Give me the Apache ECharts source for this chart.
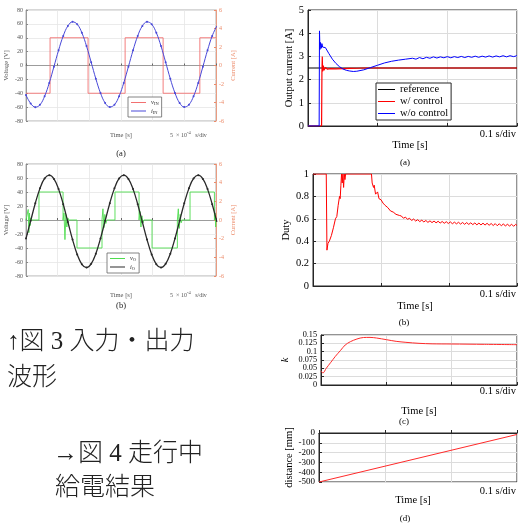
<!DOCTYPE html>
<html>
<head>
<meta charset="utf-8">
<script src="https://cdn.jsdelivr.net/npm/echarts@6/dist/echarts.min.js"></script>
<style>
  html, body { margin: 0; padding: 0; background: #fff; }
  #chart { width: 518px; height: 527px; }
</style>
</head>
<body>
<div id="chart"></div>
<script>
// ---- Fig.3 (a): input waveforms, time in divisions (5e-4 s/div) ----
const sineTime = [0, 0.147, 0.294, 0.441, 0.588, 0.735, 0.882, 1.029, 1.176, 1.323, 1.47, 1.617, 1.764, 1.911,
  2.058, 2.205, 2.352, 2.499, 2.646, 2.793, 2.94, 3.087, 3.234, 3.381, 3.528, 3.675, 3.822, 3.969, 4.116,
  4.263, 4.41, 4.557, 4.704, 4.851, 4.998, 5.145, 5.292, 5.439, 5.586, 5.733, 5.88, 6.027];
const iInCurrent = [-3.2, -4.1, -4.5, -4.25, -3.32, -1.88, -0.13, 1.65, 3.2, 4.28, 4.72, 4.46, 3.54, 2.1, 0.35, -1.43,
  -2.97, -4.05, -4.49, -4.24, -3.32, -1.88, -0.13, 1.65, 3.2, 4.28, 4.72, 4.46, 3.54, 2.1, 0.35, -1.43,
  -2.97, -4.05, -4.49, -4.24, -3.32, -1.88, -0.13, 1.65, 3.2, 4.28];
const vInTime = [0, 0.76, 0.76, 1.96, 1.96, 3.13, 3.13, 4.33, 4.33, 5.49, 5.49, 6];
const vInVoltage = [-40, -40, 40, 40, -40, -40, 40, 40, -40, -40, 40, 40];

// ---- Fig.3 (b): output waveforms ----
const iOCurrent = [-1.99, -0.09, 1.8, 3.39, 4.45, 4.8, 4.4, 3.31, 1.69, -0.21, -2.1, -3.69, -4.75, -5.1, -4.7, -3.61,
  -1.99, -0.09, 1.8, 3.39, 4.45, 4.8, 4.4, 3.31, 1.69, -0.21, -2.1, -3.69, -4.75, -5.1, -4.7, -3.61,
  -1.99, -0.09, 1.8, 3.39, 4.45, 4.8, 4.4, 3.31, 1.69, -0.21];
const vOTime = [0, 0.05, 0.07, 0.09, 0.11, 0.13, 0.15, 0.17, 0.41, 0.41, 1.17, 1.17, 1.2, 1.23, 1.26, 1.29, 1.32, 1.35,
  1.61, 1.61, 2.4, 2.4, 2.43, 2.46, 2.49, 2.52, 2.55, 2.81, 2.81, 3.57, 3.57, 3.6, 3.63, 3.66, 3.69, 3.72,
  3.98, 3.98, 4.78, 4.78, 4.81, 4.84, 4.87, 4.9, 4.93, 5.18, 5.18, 5.95, 5.95, 5.97, 5.99, 6];
const vOVoltage = [0, 0, 15, -18, 10, -8, 3, 0, 0, 40, 40, 0, 10, -28, 8, -10, 3, 0,
  0, -40, -40, 0, 16, -11, 8, -5, 0, 0, 40, 40, 0, 12, -10, 6, -4, 0,
  0, -40, -40, 0, 16, -12, 8, -4, 0, 0, 40, 40, 0, 10, -10, 0];

// ---- Fig.4 (a): output current [A], time [s] ----
const refTime = [0, 0.3];
const refCurrent = [2.5, 2.5];
const ctrlTime = [0, 0.0195, 0.02, 0.0205, 0.021, 0.022, 0.023, 0.025, 0.028, 0.032, 0.04, 0.05, 0.06, 0.07, 0.08, 0.3];
const ctrlCurrent = [0, 0, 2.3, 3.0, 2.35, 2.6, 2.4, 2.52, 2.45, 2.47, 2.46, 2.47, 2.48, 2.49, 2.5, 2.5];
const noCtrlTime = [0, 0.016, 0.0165, 0.0172, 0.018, 0.019, 0.02, 0.021, 0.022, 0.025, 0.03, 0.035, 0.04, 0.045,
  0.05, 0.055, 0.06, 0.065, 0.07, 0.08, 0.09, 0.1, 0.11, 0.12, 0.13, 0.14,
  0.15, 0.155, 0.16, 0.165, 0.17, 0.175, 0.18, 0.185, 0.19, 0.195, 0.2, 0.205, 0.21, 0.215, 0.22, 0.225,
  0.23, 0.235, 0.24, 0.245, 0.25, 0.255, 0.26, 0.265, 0.27, 0.275, 0.28, 0.285, 0.29, 0.295, 0.3];
const noCtrlCurrent = [0, 0, 4.1, 3.3, 3.6, 3.35, 3.55, 3.4, 3.45, 3.38, 3.12, 2.88, 2.7, 2.56,
  2.46, 2.4, 2.37, 2.35, 2.36, 2.42, 2.52, 2.62, 2.72, 2.79, 2.84, 2.88,
  2.92, 2.88, 2.95, 2.9, 2.96, 2.92, 2.98, 2.93, 2.98, 2.94, 2.99, 2.94, 2.99, 2.95, 3.0, 2.95,
  3.0, 2.96, 3.01, 2.96, 3.01, 2.97, 3.02, 2.97, 3.02, 2.98, 3.03, 2.98, 3.03, 2.99, 3.03];

// ---- Fig.4 (b): duty ----
const dutyTime = [0, 0.0195, 0.0205, 0.022, 0.024, 0.027, 0.03, 0.033, 0.035, 0.037, 0.039, 0.04, 0.041, 0.042,
  0.043, 0.044, 0.045, 0.046, 0.047, 0.048, 0.086, 0.087, 0.089, 0.09, 0.092, 0.095, 0.097, 0.1, 0.103,
  0.106, 0.11, 0.114, 0.118, 0.122, 0.127, 0.13, 0.133, 0.136, 0.139, 0.142, 0.145, 0.148, 0.151, 0.154,
  0.157, 0.16, 0.163, 0.166, 0.169, 0.172, 0.175, 0.178, 0.181, 0.184, 0.187, 0.19, 0.193, 0.196, 0.199,
  0.202, 0.205, 0.208, 0.211, 0.214, 0.217, 0.22, 0.223, 0.226, 0.229, 0.232, 0.235, 0.238, 0.241, 0.244,
  0.247, 0.25, 0.253, 0.256, 0.259, 0.262, 0.265, 0.268, 0.271, 0.274, 0.277, 0.28, 0.283, 0.286, 0.289,
  0.292, 0.295, 0.298, 0.3];
const dutyValue = [1, 1, 0.32, 0.38, 0.4, 0.45, 0.52, 0.6, 0.62, 0.72, 0.8, 0.78, 0.9, 1,
  0.92, 1, 0.88, 1, 0.95, 1, 1, 0.92, 0.88, 0.9, 0.82, 0.84, 0.78, 0.77, 0.74,
  0.72, 0.7, 0.67, 0.66, 0.64, 0.63, 0.625, 0.605, 0.615, 0.595, 0.605, 0.585, 0.598, 0.58, 0.592,
  0.575, 0.588, 0.572, 0.585, 0.568, 0.582, 0.566, 0.58, 0.564, 0.578, 0.562, 0.576, 0.56, 0.574, 0.558,
  0.572, 0.556, 0.57, 0.555, 0.569, 0.553, 0.567, 0.551, 0.566, 0.55, 0.564, 0.548, 0.563, 0.546, 0.562,
  0.545, 0.561, 0.544, 0.56, 0.542, 0.558, 0.54, 0.557, 0.538, 0.556, 0.537, 0.555, 0.535, 0.553, 0.534,
  0.552, 0.533, 0.55, 0.54];

// ---- Fig.4 (c): k ----
const kTime = [0, 0.003, 0.008, 0.015, 0.022, 0.03, 0.037, 0.045, 0.055, 0.065, 0.075, 0.085, 0.1, 0.115,
  0.13, 0.15, 0.17, 0.2, 0.25, 0.3];
const kValue = [0.042, 0.036, 0.05, 0.068, 0.086, 0.104, 0.12, 0.13, 0.138, 0.1425, 0.1428, 0.141, 0.136, 0.131,
  0.128, 0.125, 0.1235, 0.123, 0.122, 0.121];

// ---- Fig.4 (d): distance [mm] ----
const distTime = [0, 0.3];
const distValue = [-500, -15];

const zip = (xs, ys) => xs.map((x, i) => [x, ys[i]]);

const SERIF = '"Liberation Serif", "DejaVu Serif", serif';
const JP = '"Liberation Serif", "Noto Sans CJK JP", sans-serif';
const ORANGE = '#ec8a68';
const GREY = '#555';

const chart = echarts.init(document.getElementById('chart'));

// left oscilloscope-like panels
const scopeX = (gridIndex) => ({
  gridIndex, type: 'value', min: 0, max: 6, interval: 1,
  axisLabel: { show: false },
  axisLine: { lineStyle: { color: '#888', width: 0.8 } },
  axisTick: { inside: true, length: 2, lineStyle: { color: '#666' } },
  splitLine: { lineStyle: { color: '#e6e6e6', width: 0.8 } }
});
const scopeV = (gridIndex) => ({
  gridIndex, type: 'value', min: -80, max: 80, interval: 20,
  name: 'Voltage [V]', nameLocation: 'middle', nameGap: 16, nameRotate: 90,
  nameTextStyle: { fontSize: 6.5, color: GREY, fontFamily: SERIF },
  axisLabel: { fontSize: 6, color: GREY, margin: 3, fontFamily: SERIF },
  axisLine: { show: true, lineStyle: { color: '#888', width: 0.8 } },
  axisTick: { inside: true, length: 2 },
  splitLine: { lineStyle: { color: '#e6e6e6', width: 0.8 } }
});
const scopeA = (gridIndex) => ({
  gridIndex, type: 'value', position: 'right', min: -6, max: 6, interval: 2,
  name: 'Current [A]', nameLocation: 'middle', nameGap: 14, nameRotate: 90,
  nameTextStyle: { fontSize: 6.5, color: ORANGE, fontFamily: SERIF },
  axisLabel: { fontSize: 6, color: ORANGE, margin: 3, fontFamily: SERIF },
  axisLine: { show: true, lineStyle: { color: ORANGE, width: 0.8 } },
  axisTick: { inside: true, length: 2 },
  splitLine: { show: false }
});

// right matlab-like panels
const timeX = (gridIndex) => ({
  gridIndex, type: 'value', min: 0, max: 0.3, interval: 0.1,
  axisLabel: { show: false },
  axisLine: { lineStyle: { color: '#262626' } },
  axisTick: { inside: true, length: 3, lineStyle: { color: '#262626' } },
  splitLine: { lineStyle: { color: '#dcdcdc' } }
});
const valueY = (gridIndex, min, max, interval, name, nameGap, fontSize, italic) => ({
  gridIndex, type: 'value', min, max, interval,
  name, nameLocation: 'middle', nameGap, nameRotate: 90,
  nameTextStyle: { fontSize: 10.5, color: '#000', fontFamily: SERIF, fontStyle: italic ? 'italic' : 'normal' },
  axisLabel: { fontSize, color: '#000', margin: 4, fontFamily: SERIF,
    showMinLabel: true, showMaxLabel: true, hideOverlap: false },
  axisLine: { show: true, lineStyle: { color: '#262626' } },
  axisTick: { inside: true, length: 3, lineStyle: { color: '#262626' } },
  splitLine: { lineStyle: { color: '#dcdcdc' } }
});

const subRich = {
  m: { fontSize: 6.5, fontStyle: 'italic', fontFamily: SERIF, color: '#333' },
  s: { fontSize: 4.5, fontFamily: SERIF, color: '#333', padding: [3, 0, 0, 0] }
};
const subFormatter = (name) => '{m|' + name.charAt(0) + '}{s|' + name.slice(1) + '}';

const line = (name, data, xAxisIndex, yAxisIndex, color, width, extra) => Object.assign({
  name, type: 'line', data, xAxisIndex, yAxisIndex,
  showSymbol: false, symbol: 'none',
  lineStyle: { color, width }, itemStyle: { color }
}, extra || {});

const txt = (text, x, y, fontSize, color, align, family, weight) => ({
  type: 'text', x, y,
  style: { text, fontSize, fill: color || '#000', fontFamily: family || SERIF, fontWeight: weight || 'normal',
    align: align || 'center', verticalAlign: 'middle' }
});

const smallLegend = (names, left, top) => ({
  data: names, orient: 'vertical', left, top,
  icon: 'rect', itemWidth: 15, itemHeight: 1, itemGap: 1, padding: [2, 3, 2, 3],
  borderColor: '#666', borderWidth: 0.8, backgroundColor: '#fff',
  formatter: subFormatter, textStyle: { rich: subRich }
});

chart.setOption({
  animation: false,
  backgroundColor: '#fff',
  grid: [
    { left: 26, top: 10, width: 190, height: 111, show: true, borderColor: '#999', borderWidth: 0.8 },
    { left: 26, top: 164, width: 190, height: 112, show: true, borderColor: '#999', borderWidth: 0.8 },
    { left: 308, top: 10, width: 209, height: 116, show: true, borderColor: '#262626', borderWidth: 1 },
    { left: 313, top: 174, width: 204, height: 112, show: true, borderColor: '#262626', borderWidth: 1 },
    { left: 321, top: 335, width: 196, height: 50, show: true, borderColor: '#262626', borderWidth: 1 },
    { left: 319, top: 433, width: 198, height: 49, show: true, borderColor: '#262626', borderWidth: 1 }
  ],
  xAxis: [scopeX(0), scopeX(1), timeX(2), timeX(3), timeX(4), timeX(5)],
  yAxis: [
    scopeV(0), scopeA(0), scopeV(1), scopeA(1),
    valueY(2, 0, 5, 1, 'Output current [A]', 13, 10.5),
    valueY(3, 0, 1, 0.2, 'Duty', 21, 10.5),
    valueY(4, 0, 0.15, 0.025, 'k', 30, 8.2, true),
    valueY(5, -500, 0, 100, 'distance [mm]', 24, 9)
  ],
  legend: [
    smallLegend(['vIN', 'iIN'], 128, 97),
    smallLegend(['vO', 'iO'], 107, 253),
    {
      data: ['reference', 'w/ control', 'w/o control'], orient: 'vertical', left: 376, top: 83,
      icon: 'rect', itemWidth: 17, itemHeight: 1, itemGap: 1, padding: [1, 3, 1, 2],
      borderColor: '#262626', borderWidth: 1, backgroundColor: '#fff',
      textStyle: { fontSize: 10.5, fontFamily: SERIF, color: '#000' }
    }
  ],
  series: [
    line('vIN', zip(vInTime, vInVoltage), 0, 0, '#f27070', 0.9),
    line('iIN', zip(sineTime, iInCurrent), 0, 1, '#4848d8', 1,
      { smooth: 0.4, showSymbol: true, symbol: 'circle', symbolSize: 2 }),
    line('vO', zip(vOTime, vOVoltage), 1, 2, '#4fdc4f', 0.9),
    line('iO', zip(sineTime, iOCurrent), 1, 3, '#2a2a2a', 1.3,
      { smooth: 0.4, showSymbol: true, symbol: 'circle', symbolSize: 2 }),
    line('reference', zip(refTime, refCurrent), 2, 4, '#000', 1),
    line('w/ control', zip(ctrlTime, ctrlCurrent), 2, 4, '#ff0000', 1.2),
    line('w/o control', zip(noCtrlTime, noCtrlCurrent), 2, 4, '#0000ff', 1),
    line('duty', zip(dutyTime, dutyValue), 3, 5, '#ff0000', 1),
    line('k', zip(kTime, kValue), 4, 6, '#ff2a2a', 1, { smooth: 0.3 }),
    line('distance', zip(distTime, distValue), 5, 7, '#ff2a2a', 1)
  ],
  graphic: [
    // left panel captions
    txt('Time [s]', 121, 135, 6.5, GREY),
    {
      type: 'text', x: 170, y: 135,
      style: {
        text: '{n|5  \u00d7 10}{p|-4}{n|   s/div}', verticalAlign: 'middle', fill: GREY,
        rich: {
          n: { fontSize: 6, fontFamily: SERIF, fill: GREY },
          p: { fontSize: 4.5, fontFamily: SERIF, fill: GREY, padding: [0, 0, 4, 0] }
        }
      }
    },
    txt('(a)', 121, 154, 8.5, '#222'),
    txt('Time [s]', 121, 295, 6.5, GREY),
    {
      type: 'text', x: 170, y: 295,
      style: {
        text: '{n|5  \u00d7 10}{p|-4}{n|   s/div}', verticalAlign: 'middle', fill: GREY,
        rich: {
          n: { fontSize: 6, fontFamily: SERIF, fill: GREY },
          p: { fontSize: 4.5, fontFamily: SERIF, fill: GREY, padding: [0, 0, 4, 0] }
        }
      }
    },
    txt('(b)', 121, 306, 8.5, '#222'),
    // right panel captions
    txt('0.1 s/div', 516, 134, 10.5, '#000', 'right'),
    txt('Time [s]', 410, 145, 10.5),
    txt('(a)', 405, 163, 9),
    txt('0.1 s/div', 516, 294, 10.5, '#000', 'right'),
    txt('Time [s]', 415, 306, 10.5),
    txt('(b)', 404, 323, 9),
    txt('0.1 s/div', 516, 391, 10.5, '#000', 'right'),
    txt('Time [s]', 419, 411, 10.5),
    txt('(c)', 404, 422, 9),
    txt('0.1 s/div', 516, 491, 10.5, '#000', 'right'),
    txt('Time [s]', 413, 500, 10.5),
    txt('(d)', 405, 519, 9),
    // figure notes
    txt('\u2191\u56f3 3 \u5165\u529b\u30fb\u51fa\u529b', 7, 342, 25, '#222', 'left', JP, 300),
    txt('\u6ce2\u5f62', 7, 378, 25, '#222', 'left', JP, 300),
    txt('\u2192\u56f3 4 \u8d70\u884c\u4e2d', 53, 454, 25, '#222', 'left', JP, 300),
    txt('\u7d66\u96fb\u7d50\u679c', 55, 488, 25, '#222', 'left', JP, 300)
  ]
});
</script>
</body>
</html>
